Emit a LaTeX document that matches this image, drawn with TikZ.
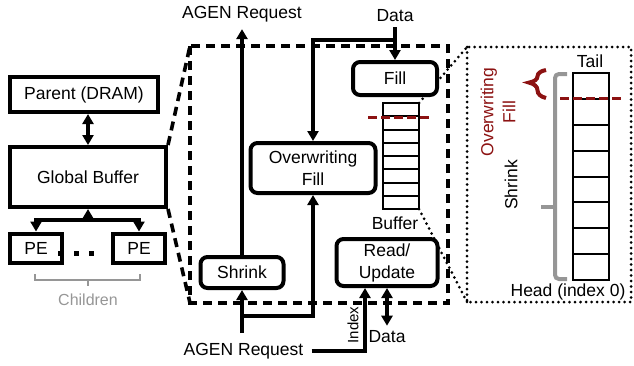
\documentclass[tikz,border=0pt]{standalone}
\usepackage{fontspec}
\setmainfont{Liberation Sans}
\usetikzlibrary{arrows.meta,backgrounds,calc,decorations.pathreplacing}
\definecolor{owred}{RGB}{140,18,18}
\definecolor{brgray}{RGB}{150,150,150}

\begin{document}
\begin{tikzpicture}
[x=1pt,y=-1pt,
 every node/.style={font=\fontsize{17.5}{22}\selectfont,inner sep=0pt},
 box/.style={draw,line width=4pt,fill=white,align=center},
 rbox/.style={box,rounded corners=7pt},
 arr/.style={line width=3.2pt,-{Triangle[length=10pt,width=11pt]}},
 darr/.style={line width=3.2pt,{Triangle[length=10pt,width=11pt]}-{Triangle[length=10pt,width=11pt]}},
 cell/.style={draw,line width=2pt,fill=white,outer sep=0pt},
 cut/.style={owred,line width=3pt,dash pattern=on 9pt off 4pt},
 dashes/.style={line width=3.6pt,dash pattern=on 9pt off 6pt},
 dots/.style={line width=3pt,line cap=round,dash pattern=on 0pt off 5.5pt}]
 \useasboundingbox (0,0) rectangle (634,365);

 % memory hierarchy
 \node[box,minimum width=148pt,minimum height=35pt] (parent) at (84,94.5) {Parent (DRAM)};
 \node[box,minimum width=156pt,minimum height=60pt] (gbuf) at (88,177) {Global Buffer};
 \node[box,minimum width=52pt,minimum height=29pt] (pe1) at (36,248) {PE};
 \node[box,minimum width=52pt,minimum height=29pt] (pe2) at (139,248) {PE};
 \foreach \x in {60,76,91} \fill (\x-2.5,250.5) rectangle ++(5,5);
 \coordinate (split) at (88,220);
 \draw[darr] (gbuf.north) -- (gbuf.north |- parent.south);
 \draw[arr] (split) -- (gbuf.south);
 \draw[arr] (split) -| (pe1.north);
 \draw[arr] (split) -| (pe2.north);
 \draw[brgray,line width=1.4pt] (35,274) -- (35,280) -- (140,280) -- (140,274) (88,280) -- (88,286);
 \node[text=brgray,font=\fontsize{16}{18}\selectfont] (children) at (88,300) {Children};

 % buffer internals
 \node[rbox,minimum width=84pt,minimum height=33pt] (fill) at (395,78.5) {Fill};
 \node[rbox,minimum width=125pt,minimum height=50pt] (ovfill) at (313,168) {Overwriting\\Fill};
 \node[rbox,minimum width=83pt,minimum height=31pt] (shrink) at (242,272.5) {Shrink};
 \node[rbox,minimum width=101pt,minimum height=47pt] (rdupd) at (387,262.5) {Read/\\Update};
 \node[cell,minimum width=36pt,minimum height=106pt] (sbuf) at (401,156) {};
 \foreach \i in {1,...,7}
   \draw[line width=2pt] ($(sbuf.north west)!\i/8!(sbuf.south west)$) -- ($(sbuf.north east)!\i/8!(sbuf.south east)$);
 \draw[cut] (368,117) -- (430,117);
 \node (buflbl) at (395,223) {Buffer};

 \node (agentop) at (242,14) {AGEN Request};
 \node (datatop) at (395,16) {Data};
 \node (agenbot) at (243.5,351) {AGEN Request};
 \node (databot) at (387,337) {Data};
 \node[rotate=90,font=\fontsize{15}{17}\selectfont] (index) at (353,325) {Index};

 \coordinate (dsplit) at (395,40);
 \coordinate (asplit) at (242,316);
 \draw[arr] ([yshift=-5pt]datatop.south) -- (fill.north);
 \draw[arr] (dsplit) -| (ovfill.north);
 \draw[arr] (shrink.north) -- ([yshift=-7pt]agentop.south);
 \draw[arr] (shrink.south |- 0,333) -- (shrink.south);
 \draw[arr] (asplit) -| (ovfill.south);
 \draw[arr] ([xshift=8pt]agenbot.east) -| ([xshift=-22pt]rdupd.south);
 \draw[darr] (rdupd.south) -- ([yshift=5pt]databot.north);

 % zoomed buffer
 \node[cell,minimum width=36pt,minimum height=207pt] (bbuf) at (591,176.5) {};
 \foreach \i in {1,...,7}
   \draw[line width=2pt] ($(bbuf.north west)!\i/8!(bbuf.south west)$) -- ($(bbuf.north east)!\i/8!(bbuf.south east)$);
 \draw[cut] (560,98) -- (622,98);
 \node (tail) at (590,61) {Tail};
 \node (head) at (568,292) {Head (index 0)};
 \node[rotate=90,text=owred,align=center] (ovlbl) at (498,112) {Overwriting\\Fill};
 \node[rotate=90] (shrlbl) at (511,185) {Shrink};
 \draw[owred,line width=4pt,decorate,decoration={brace,amplitude=17pt,aspect=0.55}] (546,98) -- (546,70);
 \draw[brgray,line width=4pt,rounded corners=4pt] (567,74) -- (555,74) -- (555,279) -- (567,279);
 \draw[brgray,line width=4pt] (555,207) -- (541,207);

 \begin{scope}[on background layer]
   \draw[dashes] (190,46) rectangle (448,303);
   \draw[dashes] (gbuf.north east) -- (190,46) (gbuf.south east) -- (190,303);
   \draw[dots] (467,47) rectangle (631,302);
   \draw[dots] (sbuf.north east) -- (467,47) (sbuf.south east) -- (467,302);
 \end{scope}
\end{tikzpicture}
\end{document}
